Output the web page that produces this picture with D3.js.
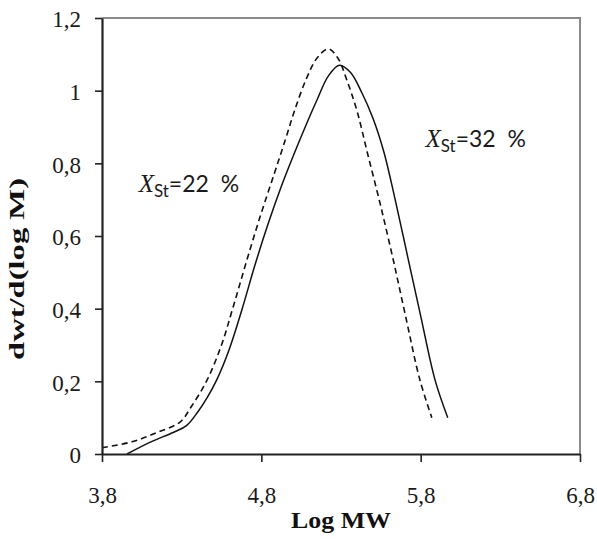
<!DOCTYPE html>
<html><head><meta charset="utf-8">
<script src="https://cdn.jsdelivr.net/npm/d3@7/dist/d3.min.js"></script>
<style>body{margin:0;background:#fff;}svg{display:block;}</style>
</head><body><svg id="c" width="597" height="539"></svg>
<script>
// Data
const xTicks = [3.8, 4.8, 5.8, 6.8];
const yTicks = [0, 0.2, 0.4, 0.6, 0.8, 1.0, 1.2];
const xs32 = [3.957,4.10,4.25,4.33,4.40,4.46,4.52,4.60,4.68,4.76,4.84,4.92,5.00,5.08,5.15,5.22,5.29,5.36,5.43,5.50,5.57,5.64,5.72,5.80,5.89,5.97];
const ys32 = [0,0.032,0.060,0.078,0.115,0.155,0.204,0.29,0.40,0.52,0.63,0.73,0.82,0.905,0.975,1.04,1.07,1.05,0.995,0.925,0.83,0.70,0.54,0.38,0.204,0.10];
const xs22 = [3.80,4.00,4.15,4.29,4.36,4.46,4.55,4.62,4.70,4.79,4.88,4.95,5.01,5.08,5.15,5.22,5.28,5.34,5.40,5.465,5.545,5.625,5.705,5.795,5.87];
const ys22 = [0.017,0.035,0.06,0.088,0.13,0.204,0.30,0.40,0.52,0.65,0.77,0.864,0.947,1.03,1.09,1.115,1.09,1.025,0.945,0.83,0.69,0.54,0.38,0.204,0.10];
const labels = [{x:4.03, y:0.72, n:"22"}, {x:5.83, y:0.845, n:"32"}];

const svg = d3.select("#c");
const L=102, R=580, T=18, B=454;
const x = d3.scaleLinear().domain([3.8,6.8]).range([L,R]);
const y = d3.scaleLinear().domain([0,1.2]).range([B,T]);
const serif = "'Liberation Serif','Times New Roman',serif";

// box (top/right lighter)
svg.append("path").attr("d",`M${L},${T}H${R}V${B}`).attr("fill","none").attr("stroke","#8a8a8a").attr("stroke-width",2);

const line = d3.line().x(d=>x(d[0])).y(d=>y(d[1])).curve(d3.curveCatmullRom.alpha(0.5));
svg.append("path").datum(xs22.map((v,i)=>[v,ys22[i]])).attr("d",line)
  .attr("fill","none").attr("stroke","#111").attr("stroke-width",1.6).attr("stroke-dasharray","6,4");
svg.append("path").datum(xs32.map((v,i)=>[v,ys32[i]])).attr("d",line)
  .attr("fill","none").attr("stroke","#111").attr("stroke-width",1.5);

const xAxis = svg.append("g").attr("transform",`translate(0,${B})`)
  .call(d3.axisBottom(x).tickValues(xTicks).tickSize(8).tickSizeOuter(0).tickPadding(25)
  .tickFormat(d=>d3.format(".1f")(d).replace(".",",")));
const yAxis = svg.append("g").attr("transform",`translate(${L},0)`)
  .call(d3.axisLeft(y).tickValues(yTicks).tickSize(7).tickSizeOuter(0).tickPadding(14)
  .tickFormat(d=>d===0||d===1?String(d):d3.format(".1f")(d).replace(".",",")));
[xAxis,yAxis].forEach(g=>{
  g.select(".domain").attr("stroke","#222").attr("stroke-width",2.2);
  g.selectAll(".tick line").attr("stroke","#222").attr("stroke-width",1.6);
  g.selectAll("text").attr("font-family",serif).attr("font-size",23).attr("fill","#1a1a1a");
});
yAxis.selectAll(".tick text").attr("dy","0.38em");

svg.append("text").attr("x",(L+R)/2).attr("y",528).attr("text-anchor","middle")
  .attr("font-family",serif).attr("font-weight","bold").attr("font-size",24).attr("fill","#111")
  .attr("textLength",100).attr("lengthAdjust","spacingAndGlyphs").text("Log MW");
svg.append("text").attr("transform",`translate(24,${269}) rotate(-90)`).attr("text-anchor","middle")
  .attr("font-family",serif).attr("font-weight","bold").attr("font-size",20).attr("fill","#111")
  .attr("textLength",182).attr("lengthAdjust","spacingAndGlyphs").text("dwt/d(log M)");

labels.forEach(l=>{
  const t = svg.append("text").attr("x",x(l.x)).attr("y",y(l.y)).attr("font-family","Lato,'Open Sans',sans-serif").attr("font-size",23).attr("fill","#1a1a1a");
  t.append("tspan").attr("font-family",serif).attr("font-style","italic").attr("font-size",25).text("X");
  t.append("tspan").attr("font-size",17).attr("dy",5).text("St");
  t.append("tspan").attr("dy",-5).text("=" + l.n + "\u00a0\u00a0%");
});
</script></body></html>
